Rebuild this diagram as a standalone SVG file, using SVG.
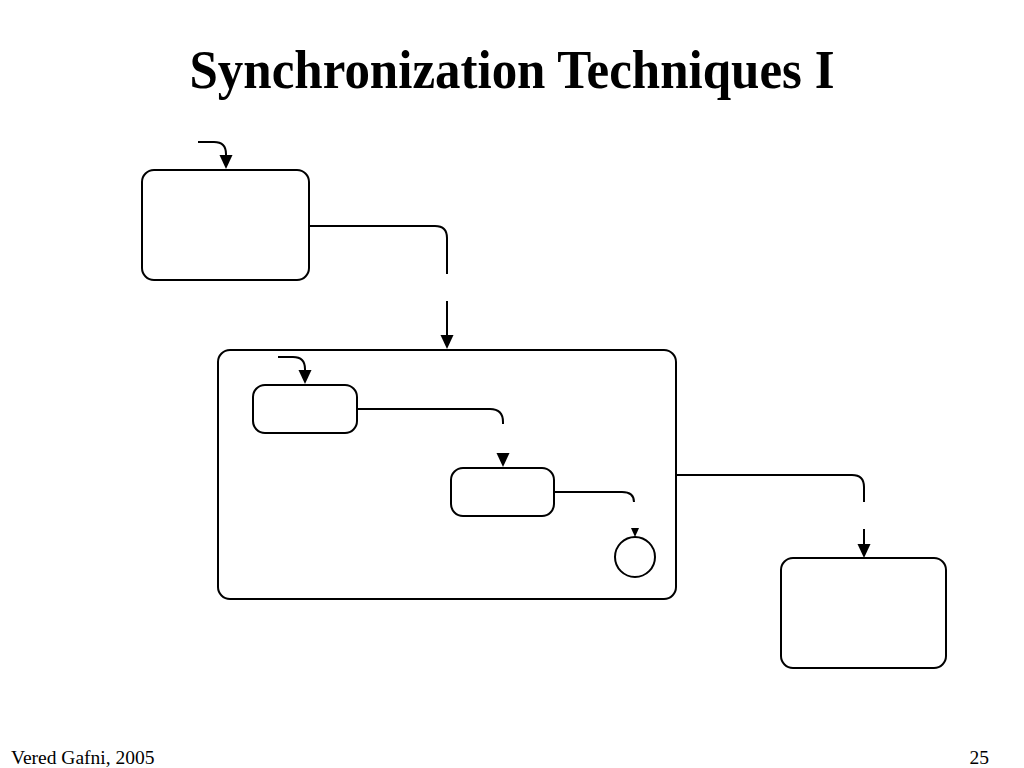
<svg xmlns="http://www.w3.org/2000/svg" width="1024" height="768" viewBox="0 0 1024 768">
<style>
.st{fill:#fff;stroke:#000;stroke-width:2}
.cn{fill:none;stroke:#000;stroke-width:2}
.ah{fill:#000;stroke:none}
.title{font-family:"Liberation Serif","Times New Roman",serif;font-weight:bold;font-size:55px}
.foot{font-family:"Liberation Serif","Times New Roman",serif;font-size:19.5px}
</style>
<rect width="1024" height="768" fill="#fff"/>
<text class="title" x="512" y="88" text-anchor="middle" textLength="645" lengthAdjust="spacingAndGlyphs">Synchronization Techniques I</text>
<g id="nodeA"><rect class="st" x="142" y="170" width="167" height="110" rx="12"/></g>
<g id="outer"><rect class="st" x="218" y="350" width="458" height="249" rx="12"/></g>
<g id="nodeB1"><rect class="st" x="253" y="385" width="104" height="48" rx="12"/></g>
<g id="nodeB2"><rect class="st" x="451" y="468" width="103" height="48" rx="12"/></g>
<g id="final"><circle class="st" cx="635" cy="557" r="20"/></g>
<g id="nodeC"><rect class="st" x="781" y="558" width="165" height="110" rx="12"/></g>
<g id="connectors">
<path class="cn" d="M198,142 L214,142 Q226,142 226,154 L226,156"/>
<path class="ah" d="M219.5,155 L232.5,155 L226,169 Z"/>
<path class="cn" d="M309,226 L435,226 Q447,226 447,238 L447,274"/>
<path class="cn" d="M447,301 L447,337"/>
<path class="ah" d="M440.5,335 L453.5,335 L447,349 Z"/>
<path class="cn" d="M278,357 L293,357 Q305,357 305,369 L305,371"/>
<path class="ah" d="M298.5,370 L311.5,370 L305,384 Z"/>
<path class="cn" d="M357,409 L490,409 Q503,409 503,422 L503,424"/>
<path class="ah" d="M496.5,453 L509.5,453 L503,467 Z"/>
<path class="cn" d="M554,492 L622,492 Q634,492 634,502"/>
<path class="ah" d="M631,528 L639,528 L635,537 Z"/>
<path class="cn" d="M676,475 L852,475 Q864,475 864,487 L864,502"/>
<path class="cn" d="M864,529 L864,546"/>
<path class="ah" d="M857.5,544 L870.5,544 L864,558 Z"/>
</g>
<text class="foot" x="11" y="764">Vered Gafni, 2005</text>
<text class="foot" x="989" y="764" text-anchor="end" font-size="17">25</text>
</svg>
